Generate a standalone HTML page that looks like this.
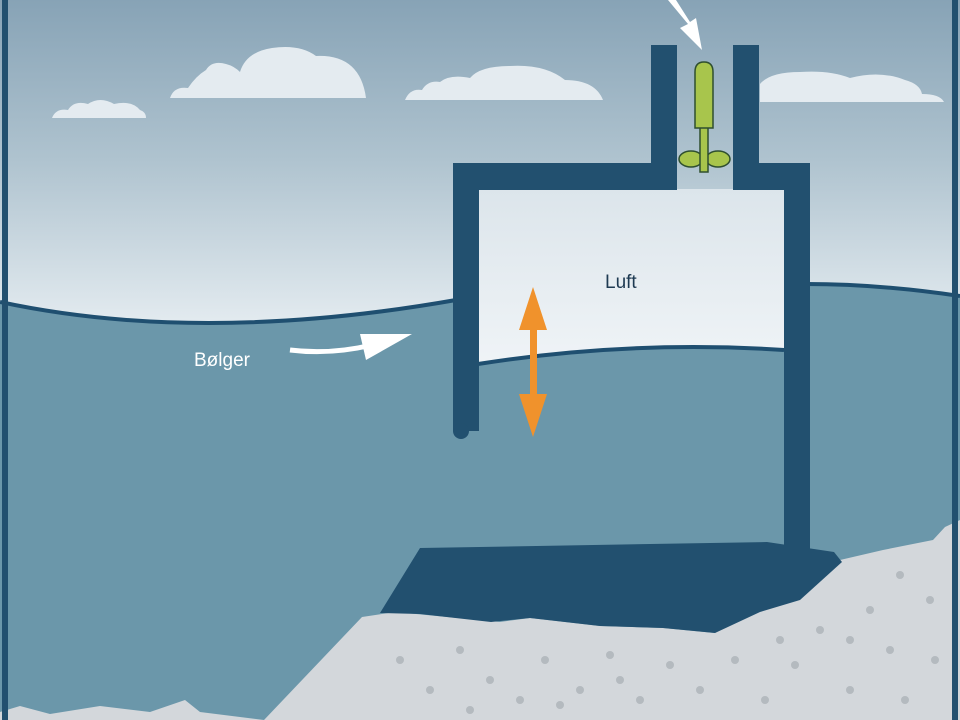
<!DOCTYPE html>
<html><head><style>html,body{margin:0;padding:0;background:#fff}svg{display:block}</style></head>
<body>
<svg width="960" height="720" viewBox="0 0 960 720" xmlns="http://www.w3.org/2000/svg">
<defs>
<linearGradient id="sky" gradientUnits="userSpaceOnUse" x1="0" y1="0" x2="0" y2="320">
<stop offset="0" stop-color="#87a3b6"/><stop offset="0.5" stop-color="#afc3cf"/><stop offset="1" stop-color="#e2eaef"/>
</linearGradient>
<linearGradient id="air" x1="0" y1="0" x2="0" y2="1">
<stop offset="0" stop-color="#dce5eb"/><stop offset="1" stop-color="#f0f4f7"/>
</linearGradient>
</defs>
<rect width="960" height="720" fill="url(#sky)"/>
<g fill="#e4ebf0">
<path d="M52 118 Q56 108 68 110 Q74 100 88 104 Q100 96 114 104 Q132 100 140 110 Q146 112 146 118 Z"/>
<path d="M170 98 Q174 86 188 88 Q196 76 206 70 Q212 60 226 64 Q234 66 240 72 Q246 52 272 48 Q300 44 316 56 Q360 54 366 98 Z"/>
<path d="M405 100 Q410 88 422 90 Q428 80 440 82 Q450 74 470 78 Q480 66 510 66 Q545 64 565 80 Q595 80 603 100 Z"/>
<path d="M760 102 L760 84 Q770 72 800 72 Q830 70 850 78 Q880 70 905 80 Q920 84 922 94 Q940 94 944 102 Z"/>
</g>
<path d="M0 302 Q200 345 460 300 L800 284 Q880 284 960 296 L960 720 L0 720 Z" fill="#6b97aa"/>
<path d="M0 302 Q200 345 456 300" fill="none" stroke="#1f4f70" stroke-width="4"/>
<path d="M806 284 Q880 284 960 296" fill="none" stroke="#1f4f70" stroke-width="4"/>
<rect x="478" y="189" width="306" height="180" fill="url(#air)"/>
<path d="M478 364 Q630 340 784 350 L784 560 L478 560 Z" fill="#6b97aa"/>
<path d="M478 364 Q630 340 784 350" fill="none" stroke="#1f4f70" stroke-width="4"/>
<path d="M362 617 L395 612 L500 622 L530 618 L600 626 L663 628 L715 633 L760 605 L840 560 L883 550 L933 540 L945 527 L960 520 L960 720 L264 720 Z" fill="#d3d7db"/>
<path d="M0 712 L20 706 L50 714 L100 706 L150 712 L185 700 L200 712 L264 720 L0 720 Z" fill="#d3d7db"/>
<g fill="#b4babf">
<circle cx="400" cy="660" r="4"/><circle cx="430" cy="690" r="4"/><circle cx="460" cy="650" r="4"/><circle cx="490" cy="680" r="4"/><circle cx="520" cy="700" r="4"/><circle cx="545" cy="660" r="4"/><circle cx="580" cy="690" r="4"/><circle cx="610" cy="655" r="4"/><circle cx="640" cy="700" r="4"/><circle cx="670" cy="665" r="4"/><circle cx="700" cy="690" r="4"/><circle cx="735" cy="660" r="4"/><circle cx="765" cy="700" r="4"/><circle cx="795" cy="665" r="4"/><circle cx="820" cy="630" r="4"/><circle cx="850" cy="690" r="4"/><circle cx="870" cy="610" r="4"/><circle cx="890" cy="650" r="4"/><circle cx="905" cy="700" r="4"/><circle cx="930" cy="600" r="4"/><circle cx="935" cy="660" r="4"/><circle cx="900" cy="575" r="4"/><circle cx="850" cy="640" r="4"/><circle cx="560" cy="705" r="4"/><circle cx="470" cy="710" r="4"/><circle cx="620" cy="680" r="4"/><circle cx="780" cy="640" r="4"/>
</g>
<path d="M420 548 L767 542 L834 552 L842 562 L800 600 L760 612 L715 633 L663 628 L600 626 L530 618 L491 622 L420 614 L380 613 Z" fill="#22506f"/>
<g fill="#22506f">
<rect x="453" y="163" width="224" height="27"/>
<rect x="733" y="163" width="77" height="27"/>
<rect x="453" y="163" width="26" height="268"/>
<circle cx="461" cy="431" r="8"/>
<rect x="784" y="163" width="26" height="390"/>
<rect x="651" y="45" width="26" height="145"/>
<rect x="733" y="45" width="26" height="145"/>
</g>
<g fill="#a8c54c" stroke="#2f4f2f" stroke-width="1.5">
<ellipse cx="691" cy="159" rx="12" ry="8"/><ellipse cx="718" cy="159" rx="12" ry="8"/>
<rect x="700" y="126" width="8" height="46"/>
<path d="M695 128 L695 72 Q695 62 704 62 Q713 62 713 72 L713 128 Z"/>
</g>
<path d="M668 0 L688 24 L680 28 L702 50 L696 18 L690 22 L676 0 Z" fill="#ffffff"/>
<rect x="530" y="310" width="7" height="104" fill="#f0922c"/>
<path d="M519 330 L533 287 L547 330 Z" fill="#f0922c"/>
<path d="M519 394 L533 437 L547 394 Z" fill="#f0922c"/>
<path d="M290 350 Q330 355 372 345" fill="none" stroke="#fff" stroke-width="5"/>
<path d="M360 334 L412 334 L366 360 Z" fill="#fff"/>
<text x="194" y="366" font-family="Liberation Sans, sans-serif" font-size="19" fill="#fff">Bølger</text>
<text x="605" y="288" font-family="Liberation Sans, sans-serif" font-size="19" fill="#1e3a52">Luft</text>
<rect x="5" y="-5" width="950" height="730" fill="none" stroke="#22506f" stroke-width="6"/>
</svg>
</body></html>
